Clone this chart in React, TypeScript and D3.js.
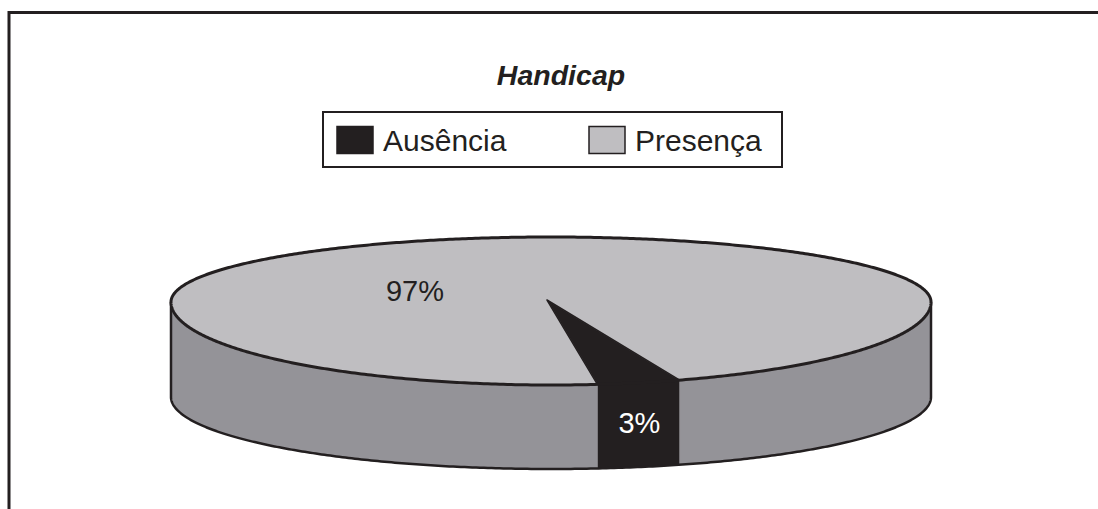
import React from "react";
import * as d3 from "d3";

const categories = ["Ausência", "Presença"];
const values = [3, 97];
const labels = ["3%", "97%"];
const title = "Handicap";

const W = 1098;
const H = 509;
const FONT = "'Liberation Sans', Arial, Helvetica, sans-serif";
const DARK = "#231f20";
const TOP_COLORS = ["#231f20", "#bfbec1"];
const SIDE_COLORS = ["#231f20", "#949398"];

// pie geometry (perspective approximated with different back/front radii)
const cx = 551;
const cyTop = 302;
const rx = 380;
const ryBack = 65;
const ryFront = 83;
const cyBot = 397;
const ryFrontBot = 72;
const hub = { x: 547, y: 300 };
const warpA = 0.1; // front magnification (perspective)

const rad = (deg: number) => (deg * Math.PI) / 180;

function warp(a: number) {
  let t = ((a % (2 * Math.PI)) + 2 * Math.PI) % (2 * Math.PI);
  if (t > Math.PI / 2 && t < (3 * Math.PI) / 2) {
    const phi = t - Math.PI;
    t = Math.PI + phi + warpA * Math.sin(2 * phi);
  }
  return t;
}
function topPt(a0: number): [number, number] {
  const a = warp(a0);
  const c = Math.cos(a);
  const ry = c > 0 ? ryBack : ryFront;
  return [cx + rx * Math.sin(a), cyTop - ry * c];
}
function botPt(a0: number): [number, number] {
  const a = warp(a0);
  const c = Math.cos(a);
  const ry = c > 0 ? ryBack : ryFrontBot;
  return [cx + rx * Math.sin(a), cyBot - ry * c];
}
function sample(a0: number, a1: number, f: (a: number) => [number, number]) {
  const n = Math.max(2, Math.ceil(Math.abs(a1 - a0) / rad(0.5)));
  return d3.range(n + 1).map((i) => f(a0 + ((a1 - a0) * i) / n));
}
const line = d3.line<[number, number]>();

export default function App() {
  const startAngle = rad(163.35);
  const pie = d3
    .pie<number>()
    .sort(null)
    .startAngle(startAngle)
    .endAngle(startAngle + 2 * Math.PI);
  const arcs = pie(values);

  const front: [number, number][] = [
    [rad(90), rad(270)],
    [rad(450), rad(630)],
  ];

  const sides: { d: string; color: string }[] = [];
  arcs.forEach((arc, i) => {
    front.forEach(([f0, f1]) => {
      const a0 = Math.max(arc.startAngle, f0);
      const a1 = Math.min(arc.endAngle, f1);
      if (a1 > a0) {
        const pts = [...sample(a0, a1, topPt), ...sample(a1, a0, botPt)];
        sides.push({ d: line(pts) + "Z", color: SIDE_COLORS[i] });
      }
    });
  });

  const tops = arcs.map((arc, i) => {
    const pts: [number, number][] = [
      [hub.x, hub.y],
      ...sample(arc.startAngle, arc.endAngle, topPt),
    ];
    return { d: line(pts) + "Z", color: TOP_COLORS[i] };
  });

  const rimTop = line(sample(0, 2 * Math.PI, topPt)) + "Z";
  const rimBot = line(sample(rad(90), rad(270), botPt));
  const [lx, ly] = topPt(rad(270));
  const [lbx, lby] = botPt(rad(270));
  const [rxp, ryp] = topPt(rad(90));
  const [rbx, rby] = botPt(rad(90));

  const aus = arcs[0];
  const mid = (aus.startAngle + aus.endAngle) / 2;
  const ausX = topPt(mid)[0];
  const ausY = (topPt(mid)[1] + botPt(mid)[1]) / 2 - 2;
  const presX = cx - rx * 0.358;
  const presY = cyTop - 11;

  const legendX = 323;
  const legendY = 112;
  const legendW = 459;
  const legendH = 55;

  return (
    <div style={{ position: "absolute", left: 0, top: 0 }}>
      <svg width={W} height={H} style={{ display: "block" }} fontFamily={FONT}>
        <rect x={0} y={0} width={W} height={H} fill="#ffffff" />
        <path d={`M9,${H} V12.5 H${W}`} fill="none" stroke={DARK} strokeWidth={3} />

        <text x={561} y={85} textAnchor="middle" fontSize={28.5} fontWeight="bold" fontStyle="italic" fill={DARK}>
          {title}
        </text>

        <rect x={legendX} y={legendY} width={legendW} height={legendH} fill="#fff" stroke={DARK} strokeWidth={2} />
        {categories.map((c, i) => {
          const sx = i === 0 ? 337 : 589;
          return (
            <g key={c}>
              <rect x={sx} y={126.5} width={36} height={27} fill={TOP_COLORS[i]} stroke={DARK} strokeWidth={1.5} />
              <text x={sx + 46} y={151} fontSize={30} fill={DARK}>
                {c}
              </text>
            </g>
          );
        })}

        {sides.map((s, i) => (
          <path key={"s" + i} d={s.d} fill={s.color} stroke={s.color} strokeWidth={0.5} />
        ))}
        <path d={rimBot} fill="none" stroke={DARK} strokeWidth={2.5} />
        <line x1={lx} y1={ly} x2={lbx} y2={lby} stroke={DARK} strokeWidth={2.5} />
        <line x1={rxp} y1={ryp} x2={rbx} y2={rby} stroke={DARK} strokeWidth={2.5} />

        {tops.map((t, i) => (
          <path key={"t" + i} d={t.d} fill={t.color} stroke={t.color} strokeWidth={0.5} strokeLinejoin="round" />
        ))}
        <path d={tops[0].d} fill="none" stroke={DARK} strokeWidth={1.5} strokeLinejoin="round" />
        <path d={rimTop} fill="none" stroke={DARK} strokeWidth={3} />

        <text x={ausX} y={ausY} dy="0.36em" textAnchor="middle" fontSize={29} fill="#ffffff">
          {labels[0]}
        </text>
        <text x={presX} y={presY} dy="0.36em" textAnchor="middle" fontSize={29} fill={DARK}>
          {labels[1]}
        </text>
      </svg>
    </div>
  );
}
